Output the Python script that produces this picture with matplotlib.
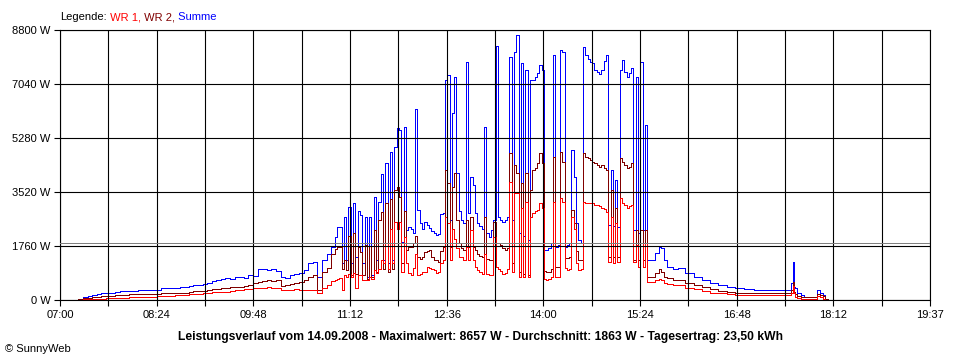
import numpy as np
import matplotlib.pyplot as plt

plt.rcParams['font.family'] = ['Liberation Sans', 'DejaVu Sans']

# time in minutes since midnight
t_morning = np.arange(434, 659, 4)      # 07:14 .. 10:58
t_midday = np.arange(660, 931, 2)       # 11:00 .. 15:30
t_evening = [932, 936, 940, 942, 944, 947, 950, 956, 960, 968, 975, 982, 989, 996,
             1004, 1011, 1020, 1028, 1040, 1048, 1055, 1057, 1058, 1059, 1060, 1063,
             1066, 1069, 1075, 1078, 1080, 1082, 1085, 1086, 1091]

# Summe (blue)
summe_morning = [0, 40, 90, 130, 160, 200, 220, 220, 230, 270,
                 280, 290, 290, 300, 310, 320, 330, 330, 340, 380,
                 390, 390, 400, 410, 420, 460, 480, 500, 530, 560,
                 620, 660, 700, 720, 700, 760, 740, 720, 800, 780,
                 1000, 1020, 980, 1000, 940, 760, 720, 820, 850, 870,
                 980, 1190, 1230, 760, 1300, 1500, 1740]
summe_midday = [2060, 2370, 2370, 1200, 2700, 1300, 3040, 1200, 3150, 1400,
                2900, 2770, 1200, 2700, 760, 2700, 800, 3370, 1300, 3200,
                4100, 1300, 4450, 1200, 4830, 1300, 5000, 5590, 5540, 1900,
                5650, 2280, 2390, 2300, 2200, 6220, 2930, 2500, 2330, 2550,
                2450, 2350, 2250, 2200, 2120, 2150, 2800, 2820, 7170, 7330,
                2600, 6080, 7280, 4130, 2900, 2600, 2500, 7760, 2820, 4020,
                3750, 2850, 2500, 2400, 2330, 5650, 2200, 2060, 2280, 2600,
                8280, 2720, 2600, 2550, 2600, 2720, 7930, 2600, 8090, 8640,
                2200, 7710, 2100, 7500, 1950, 7170, 7170, 7280, 7400, 7660,
                7500, 1630, 1630, 1700, 1850, 7980, 1740, 1800, 8150, 8090,
                1740, 1800, 1850, 4890, 4000, 2500, 1950, 1850, 8250, 7980,
                7870, 7760, 7710, 7500, 7440, 7380, 7500, 7800, 7980, 2450,
                4230, 2400, 3900, 2390, 7500, 7820, 7440, 7280, 7400, 7550,
                2280, 7280, 2200, 7760, 2280, 5700]
summe_evening = [1300, 1300, 1530, 1720, 1690, 1300, 1090, 1010, 1040, 870, 760, 650,
                 565, 490, 435, 380, 350, 330, 330, 330, 330, 550, 1230, 430, 380,
                 240, 160, 110, 100, 100, 330, 240, 160, 20, 0]

# WR 2 (dark red)
wr2_morning = [0, 20, 55, 70, 87, 110, 120, 130, 130, 165,
               170, 175, 180, 185, 190, 195, 195, 200, 210, 217,
               217, 220, 220, 230, 240, 270, 280, 290, 300, 340,
               355, 370, 380, 400, 410, 430, 440, 450, 490, 560,
               600, 620, 640, 620, 640, 470, 500, 530, 540, 600,
               640, 760, 800, 330, 900, 1030, 1500]
wr2_midday = [1650, 1740, 1740, 1000, 1300, 980, 2100, 800, 2170, 850,
              1740, 1580, 800, 1800, 700, 1750, 750, 2280, 900, 2600,
              2880, 1000, 3150, 900, 3300, 1000, 3580, 3690, 3370, 1200,
              2900, 1630, 1740, 1740, 1850, 2100, 1410, 1350, 1400, 1570,
              1600, 1630, 1410, 1300, 1300, 1250, 1600, 1740, 4230, 3800,
              1740, 3690, 4130, 2600, 1850, 1700, 1630, 2600, 1740, 2720,
              1740, 1630, 1500, 1450, 1400, 2720, 1350, 1300, 1300, 2550,
              1850, 1850, 1800, 1700, 1630, 1700, 4780, 1200, 4400, 4130,
              900, 3800, 850, 4130, 800, 3580, 4240, 4300, 4450, 4780,
              4450, 950, 900, 920, 1000, 4670, 1090, 1090, 4830, 4500,
              1360, 1360, 1400, 2930, 2500, 1600, 1300, 1300, 4780, 4670,
              4620, 4560, 4500, 4450, 4400, 4350, 4400, 4300, 4240, 1410,
              3600, 1410, 3000, 1410, 4620, 4500, 4400, 4300, 4350, 4450,
              1300, 2280, 1300, 2280, 1300, 2280]
wr2_evening = [760, 760, 870, 1000, 920, 760, 710, 650, 660, 540, 490, 410,
               360, 300, 270, 240, 220, 220, 220, 220, 220, 330, 600, 260, 195,
               130, 100, 90, 100, 100, 195, 160, 120, 40, 0]

# WR 1 (red)
wr1_morning = [0, 10, 30, 35, 40, 43, 45, 55, 65, 70,
               75, 80, 85, 90, 95, 100, 105, 110, 115, 130,
               135, 140, 150, 155, 163, 185, 195, 205, 217, 240,
               245, 255, 265, 270, 300, 320, 330, 350, 370, 380,
               390, 400, 410, 400, 400, 330, 330, 340, 350, 330,
               326, 330, 340, 217, 380, 490, 620]
wr1_midday = [650, 700, 720, 330, 800, 750, 850, 760, 870, 380,
              800, 810, 650, 650, 650, 760, 700, 980, 870, 1000,
              1300, 1200, 1850, 1000, 2300, 1200, 2550, 2300, 2550, 920,
              2060, 1200, 870, 810, 1030, 1500, 810, 850, 920, 920,
              1090, 1050, 1000, 980, 870, 900, 1200, 1300, 2720, 2500,
              1300, 2300, 2000, 1700, 1400, 1400, 1300, 1740, 1300, 2280,
              1300, 1090, 980, 900, 860, 1500, 850, 810, 830, 2060,
              1090, 1000, 950, 850, 870, 1000, 3860, 900, 3500, 3480,
              760, 3000, 760, 3200, 760, 2720, 2820, 2900, 2930, 3150,
              3000, 700, 650, 680, 760, 3200, 760, 760, 3310, 3200,
              1030, 980, 1000, 2720, 2300, 1200, 980, 1000, 3200, 3150,
              3150, 3150, 3150, 3100, 3100, 3050, 3000, 2950, 2880, 1250,
              2700, 1200, 2500, 1250, 3310, 3150, 3100, 3000, 3050, 3100,
              1250, 1800, 1090, 1850, 1090, 1850]
wr1_evening = [600, 600, 650, 690, 650, 560, 520, 490, 490, 400, 350, 300,
               240, 220, 185, 160, 160, 160, 160, 160, 160, 240, 460, 220, 110,
               55, 45, 45, 45, 45, 130, 90, 45, 0, 0]

average = 1863
x_labels = ["07:00", "08:24", "09:48", "11:12", "12:36", "14:00", "15:24", "16:48", "18:12", "19:37"]
y_ticks = [0, 1760, 3520, 5280, 7040, 8800]
title = ("Leistungsverlauf vom 14.09.2008 - Maximalwert: 8657 W - "
         "Durchschnitt: 1863 W - Tagesertrag: 23,50 kWh")

t = np.concatenate([t_morning, t_midday, t_evening])
summe = np.concatenate([summe_morning, summe_midday, summe_evening])
wr2 = np.concatenate([wr2_morning, wr2_midday, wr2_evening])
wr1 = np.concatenate([wr1_morning, wr1_midday, wr1_evening])

fig = plt.figure(figsize=(9.6, 3.6), dpi=100)
ax = fig.add_axes([60 / 960, 60 / 360, 870 / 960, 270 / 360])

# stepped, crisp 1px lines like the original logger plot
for y, col in [(summe, '#0000ff'), (wr2, '#800000'), (wr1, '#ff0000')]:
    ax.plot(t, y, color=col, lw=0.5, drawstyle='steps-mid', antialiased=False)
ax.axhline(average, color='#808080', lw=0.5, zorder=4, antialiased=False)

ax.set_xlim(420, 1177)
ax.set_ylim(0, 8800)
ax.set_xticks(np.linspace(420, 1177, 10))
ax.set_xticklabels(x_labels)
ax.set_xticks(np.linspace(420, 1177, 19), minor=True)
ax.set_yticks(y_ticks)
ax.set_yticklabels([f"{v} W" for v in y_ticks])

ax.set_axisbelow(False)
ax.grid(True, which='both', axis='x', color='black', lw=0.8)
ax.grid(True, which='major', axis='y', color='black', lw=0.8)
ax.tick_params(which='both', direction='out', length=4, width=0.8, color='black',
               labelsize=8, pad=3)
for s in ax.spines.values():
    s.set_linewidth(0.8)

# legend line at the top
txt = fig.text(60 / 960, 1 - 17 / 360, "Legende:", fontsize=8, va='center', ha='left')
for label, col in [(" WR 1,", '#ff0000'), (" WR 2,", '#800000'), (" Summe", '#0000ff')]:
    txt = ax.annotate(label, xy=(1, 0.5), xycoords=txt, va='center', ha='left',
                      fontsize=8, color=col, annotation_clip=False)

fig.text(0.5, 1 - 337 / 360, title, ha='center', va='center', fontsize=8.7, fontweight='bold')
fig.text(5 / 960, 1 - 349 / 360, "\u00a9 SunnyWeb", ha='left', va='center', fontsize=8)

fig.savefig('out.png', dpi=100)
